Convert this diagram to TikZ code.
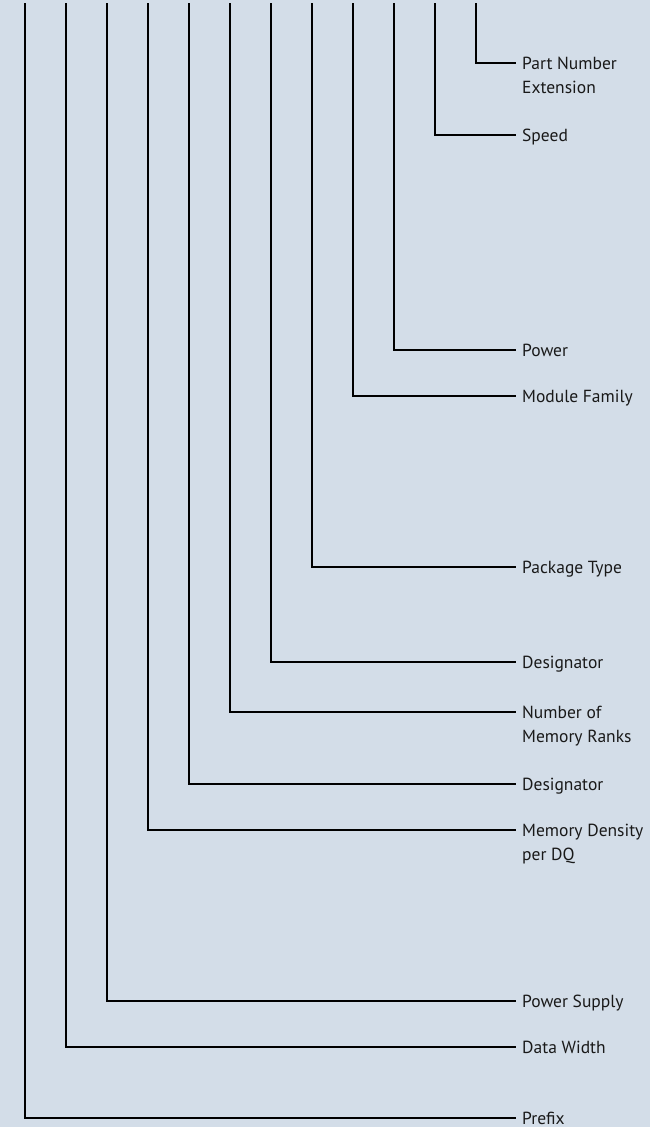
\documentclass[tikz,border=0pt]{standalone}
\usepackage{fontspec}
\setmainfont{PT Sans}
\definecolor{bgcol}{RGB}{211,221,232}
\begin{document}
\begin{tikzpicture}[x=1pt,y=-1pt,
  conn/.style={draw=black,line width=1.6pt},
  lbl/.style={anchor=base west,inner sep=0pt,font=\fontsize{17.5}{24}\selectfont,text=black!90}]
\fill[bgcol] (0,0) rectangle (650,1127);
\useasboundingbox (0,0) rectangle (650,1127);
\foreach \i/\xx/\yy/\txt in {
  1/476/63/{Part Number\\Extension},
  2/435/135/{Speed},
  3/394/350/{Power},
  4/353/396/{Module Family},
  5/312/567/{Package Type},
  6/271/662/{Designator},
  7/230/712/{Number of\\Memory Ranks},
  8/189/784/{Designator},
  9/148/830/{Memory Density\\per DQ},
  10/107/1001/{Power Supply},
  11/66/1047/{Data Width},
  12/25/1118/{Prefix}}{
  \coordinate (top\i) at (\xx,3);
  \coordinate (end\i) at (516,\yy);
  \node[lbl] (lab\i) at (522,\yy+6) {\begin{tabular}[t]{@{}l@{}}\txt\end{tabular}};
  \draw[conn] (top\i) |- (end\i);
}
\end{tikzpicture}
\end{document}
